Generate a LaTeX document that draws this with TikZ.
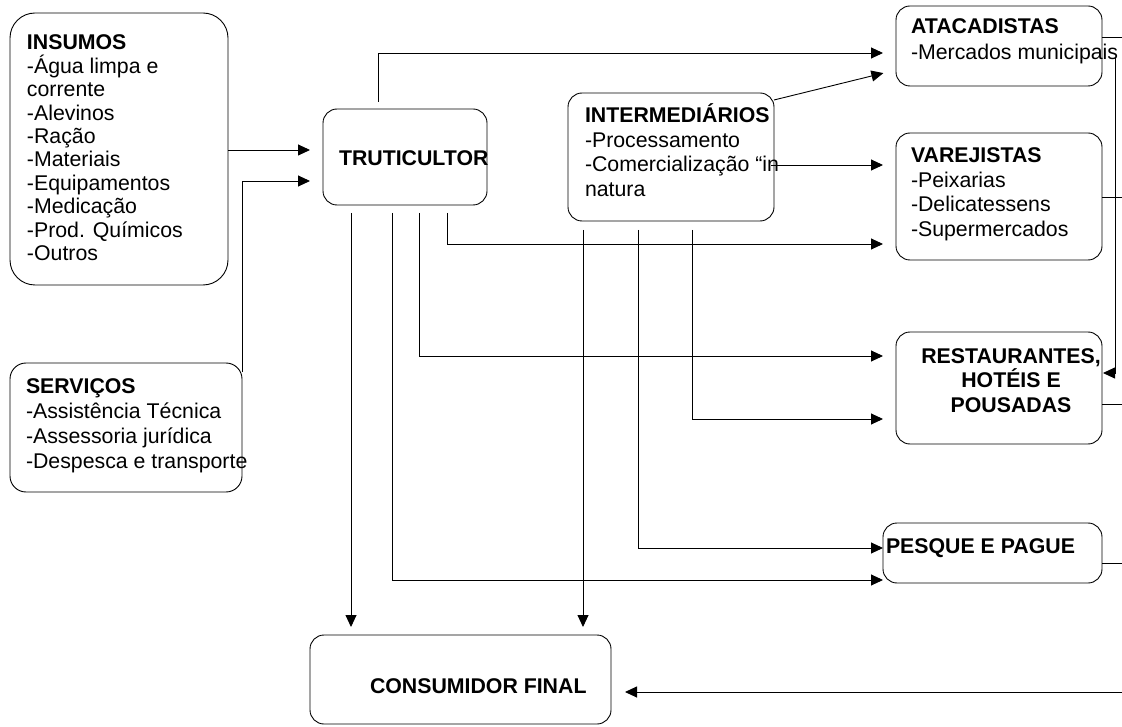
\documentclass[tikz,border=0pt]{standalone}
\usepackage{fontspec}
\setmainfont{Liberation Sans}
\usetikzlibrary{arrows.meta}
\begin{document}
\begin{tikzpicture}[x=1pt,y=-1pt,
  box/.style={draw, line width=0.9pt, rounded corners=14pt, inner sep=0pt, outer sep=0pt},
  txt/.style={inner sep=0pt, outer sep=0pt, anchor=north west, align=left},
  ln/.style={line width=0.9pt},
  arr/.style={line width=0.9pt, -{Triangle[length=12pt,width=11pt]}}
]
\useasboundingbox (0,0) rectangle (1122,727);
\newcommand{\fst}{\rule{0pt}{21pt}}
% boxes
\node[box, rounded corners=25pt, minimum width=218pt, minimum height=272pt] (ins) at (119,149) {};
\node[box, rounded corners=16pt, minimum width=232pt, minimum height=129pt] (srv) at (126,427.5) {};
\node[box, minimum width=164pt, minimum height=96pt] (tru) at (405,157) {};
\node[box, minimum width=206pt, minimum height=128pt] (int) at (671,157) {};
\node[box, minimum width=206pt, minimum height=80pt] (ata) at (999,46) {};
\node[box, minimum width=206pt, minimum height=127pt] (var) at (999,196.5) {};
\node[box, minimum width=206pt, minimum height=112pt] (res) at (999,388) {};
\node[box, minimum width=219pt, minimum height=60pt] (pes) at (992.5,553) {};
\node[box, minimum width=301pt, minimum height=89pt] (con) at (460.5,679.5) {};
% texts
\node[txt, font=\fontsize{21.3}{23.4}\selectfont] (ins-t) at (27,29) {\fst\textbf{INSUMOS}\\-Água limpa e\\corrente\\-Alevinos\\-Ração\\-Materiais\\-Equipamentos\\-Medicação\\-Prod. Químicos\\-Outros};
\node[txt, font=\fontsize{21.3}{25}\selectfont] (srv-t) at (26,372) {\fst\textbf{SERVIÇOS}\\-Assistência Técnica\\-Assessoria jurídica\\-Despesca e transporte};
\node[txt, font=\fontsize{21.3}{24}\selectfont] (tru-t) at (339,145) {\fst\textbf{TRUTICULTOR}};
\node[txt, font=\fontsize{21.3}{24.5}\selectfont] (int-t) at (585,102) {\fst\textbf{INTERMEDIÁRIOS}\\-Processamento\\-Comercialização “in\\natura};
\node[txt, font=\fontsize{21.3}{26}\selectfont] (ata-t) at (911,13) {\fst\textbf{ATACADISTAS}\\-Mercados municipais};
\node[txt, font=\fontsize{21.3}{24.5}\selectfont] (var-t) at (911,142) {\fst\textbf{VAREJISTAS}\\-Peixarias\\-Delicatessens\\-Supermercados};
\node[txt, anchor=north, align=center, font=\fontsize{21.3}{24.5}\bfseries\selectfont] (res-t) at (1011,342) {\fst RESTAURANTES,\\HOTÉIS E\\POUSADAS};
\node[txt, font=\fontsize{21.3}{24}\bfseries\selectfont] (pes-t) at (886,532) {\fst PESQUE E PAGUE};
\node[txt, font=\fontsize{21.3}{24}\bfseries\selectfont] (con-t) at (370,672) {\fst CONSUMIDOR FINAL};
% free ends
\coordinate (e1) at (1122,37);
\coordinate (e3) at (1122,197);
\coordinate (e4) at (1122,404);
\coordinate (e5) at (1122,563);
\coordinate (e6) at (1122,692);
\coordinate (r2s) at (1115,58);
% connectors
\draw[arr, shorten >=13pt] (ins.east |- 0,150) -- (tru.west |- 0,150);
\draw[arr, shorten >=13pt] (srv.east |- 0,372) |- (tru.west |- 0,181);
\draw[arr, shorten >=13pt] ([yshift=7pt]tru.north -| 378,0) |- (ata.west |- 0,53);
\draw[arr, shorten >=13pt] ([yshift=-7pt]int.north east) -- (ata.west |- 0,70);
\draw[arr, shorten >=13pt] ([xshift=-3pt]int.east |- 0,165) -- (var.west |- 0,165);
\draw[arr, shorten >=13pt] ([yshift=-8pt]tru.south -| 447,0) |- (var.west |- 0,244);
\draw[arr, shorten >=13pt] ([yshift=-8pt]tru.south -| 419,0) |- (res.west |- 0,356);
\draw[arr, shorten >=13pt] ([yshift=-9pt]int.south -| 692,0) |- (res.west |- 0,419);
\draw[arr] ([yshift=-9pt]int.south -| 638,0) |- (pes.west |- 0,548);
\draw[arr] ([yshift=-8pt]tru.south -| 392,0) |- (pes.west |- 0,580);
\draw[arr, shorten >=8pt] ([yshift=-8pt]tru.south -| 351,0) -- (con.north -| 351,0);
\draw[arr, shorten >=8pt] ([yshift=-9pt]int.south -| 583,0) -- (con.north -| 583,0);
\draw[ln] (ata.east |- e1) -- (e1);
\draw[ln] (var.east |- e3) -- (e3);
\draw[ln] (res.east |- e4) -- (e4);
\draw[ln] (pes.east |- e5) -- (e5);
\draw[arr] (r2s) |- ([xshift=1pt]res.east |- 0,373);
\draw[arr, shorten >=14pt] (e6) -- (con.east |- e6);
\end{tikzpicture}
\end{document}
